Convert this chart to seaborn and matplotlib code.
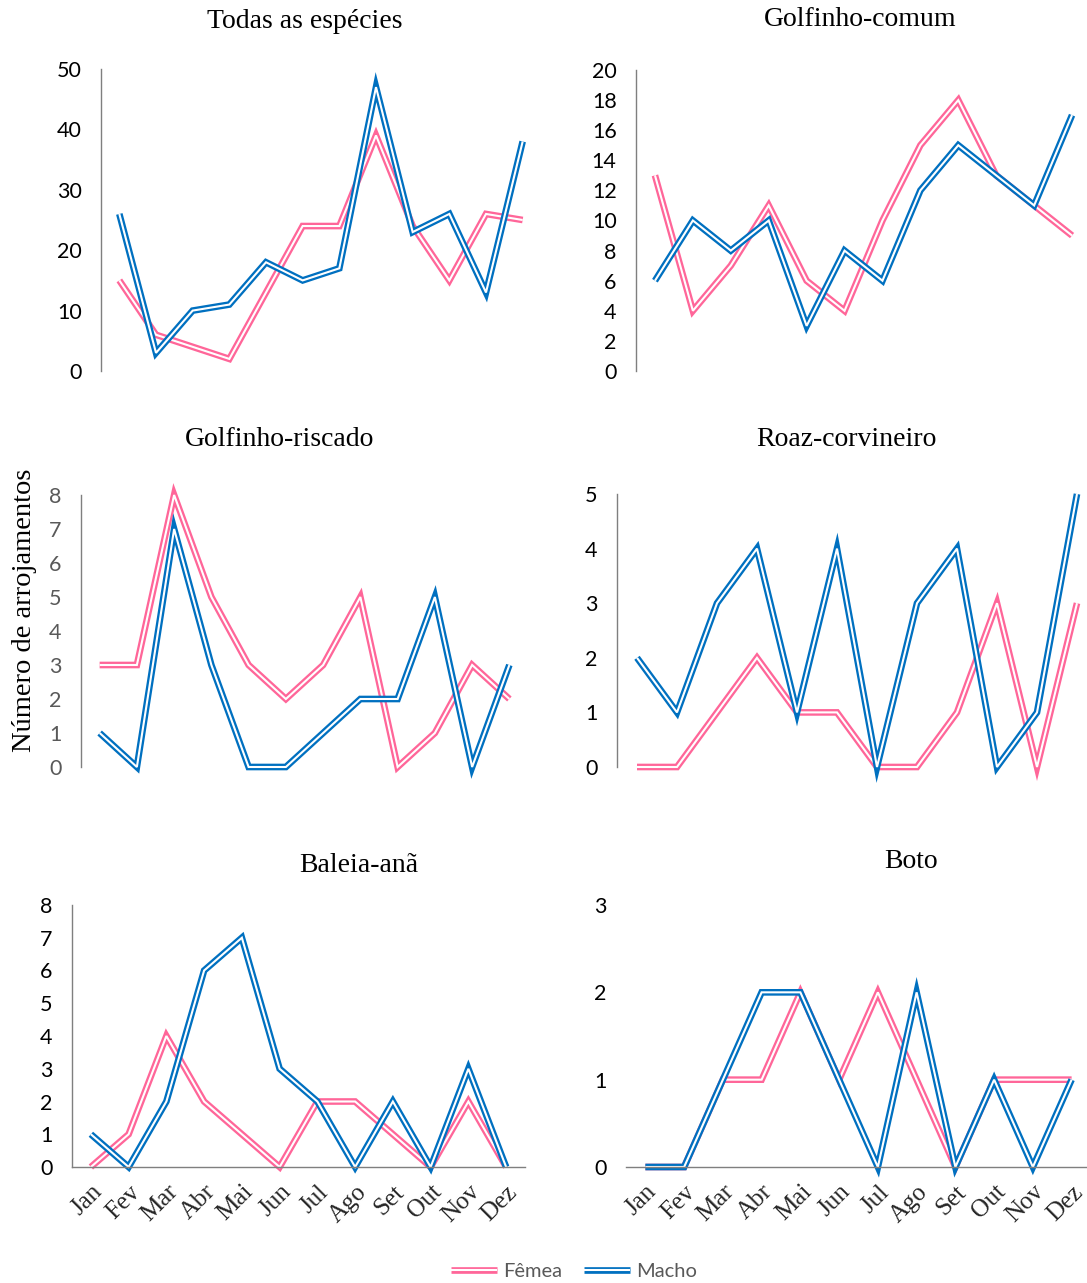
import numpy as np
import pandas as pd
import matplotlib
matplotlib.use('Agg')
import matplotlib.pyplot as plt
import matplotlib.patheffects as pe
from matplotlib.lines import Line2D
import seaborn as sns

# ---------------- data ----------------
meses = ['Jan', 'Fev', 'Mar', 'Abr', 'Mai', 'Jun', 'Jul', 'Ago', 'Set', 'Out', 'Nov', 'Dez']
sexos = ['Fêmea', 'Macho']
titulos = ['Todas as espécies', 'Golfinho-comum', 'Golfinho-riscado',
           'Roaz-corvineiro', 'Baleia-anã', 'Boto']

todas_femea = [15, 6, 4, 2, 13, 24, 24, 39, 24, 15, 26, 25]
todas_macho = [26, 3, 10, 11, 18, 15, 17, 47, 23, 26, 13, 38]

comum_femea = [13, 4, 7, 11, 6, 4, 10, 15, 18, 13, 11, 9]
comum_macho = [6, 10, 8, 10, 3, 8, 6, 12, 15, 13, 11, 17]

riscado_femea = [3, 3, 8, 5, 3, 2, 3, 5, 0, 1, 3, 2]
riscado_macho = [1, 0, 7, 3, 0, 0, 1, 2, 2, 5, 0, 3]

roaz_femea = [0, 0, 1, 2, 1, 1, 0, 0, 1, 3, 0, 3]
roaz_macho = [2, 1, 3, 4, 1, 4, 0, 3, 4, 0, 1, 5]

baleia_femea = [0, 1, 4, 2, 1, 0, 2, 2, 1, 0, 2, 0]
baleia_macho = [1, 0, 2, 6, 7, 3, 2, 0, 2, 0, 3, 0]

boto_femea = [0, 0, 1, 1, 2, 1, 2, 1, 0, 1, 1, 1]
boto_macho = [0, 0, 1, 2, 2, 1, 0, 2, 0, 1, 0, 1]

y_max = [50, 20, 8, 5, 8, 3]
y_step = [10, 2, 1, 1, 1, 1]

cores = {'Fêmea': '#FF6699', 'Macho': '#0070C0'}

series = [(todas_femea, todas_macho), (comum_femea, comum_macho),
          (riscado_femea, riscado_macho), (roaz_femea, roaz_macho),
          (baleia_femea, baleia_macho), (boto_femea, boto_macho)]

# ---------------- layout (pixels) ----------------
W, H = 1087, 1283
sns.set_theme(style='white')
plt.rcParams['font.family'] = ['Lato', 'DejaVu Sans']

fig = plt.figure(figsize=(W / 100, H / 100), dpi=100)

# x0, x1, y_top, y_bottom
boxes = [(101, 541, 69, 371), (636, 1091, 70, 371),
         (81, 528, 495, 767), (617, 1097, 494, 767),
         (72, 525, 905, 1167), (626, 1091, 905, 1167)]
title_pos = [(305, 21), (860, 19), (280, 440), (846, 440), (359, 865), (911, 862)]

OUTER = 4.8
INNER = 1.5
SERIF = 'Liberation Serif'

for i, ((fem, mac), box) in enumerate(zip(series, boxes)):
    x0, x1, yt, yb = box
    ax = fig.add_axes([x0 / W, 1 - yb / H, (x1 - x0) / W, (yb - yt) / H])
    df = pd.DataFrame({
        'mes': list(range(12)) * 2,
        'valor': list(fem) + list(mac),
        'sexo': [sexos[0]] * 12 + [sexos[1]] * 12,
    })
    sns.lineplot(data=df, x='mes', y='valor', hue='sexo', hue_order=sexos,
                 palette=cores, ax=ax, legend=False, sort=False,
                 estimator=None, linewidth=INNER)
    for ln in ax.lines:
        c = ln.get_color()
        ln.set_color('white')
        ln.set_solid_capstyle('butt')
        ln.set_solid_joinstyle('miter')
        ln.set_clip_on(False)
        ln.set_path_effects([pe.Stroke(linewidth=OUTER, foreground=c), pe.Normal()])

    ax.set_xlim(-0.5, 11.5)
    ax.set_ylim(0, y_max[i])
    ax.set_yticks(np.arange(0, y_max[i] + 0.001, y_step[i]))
    ax.set_xlabel('')
    ax.set_ylabel('')
    ax.set_facecolor('none')
    ax.grid(False)
    tick_col = '#595959' if i == 2 else 'black'
    ax.tick_params(axis='y', length=0, pad=14, labelsize=15.5, labelcolor=tick_col)
    if i >= 4:
        ax.set_xticks(range(12))
        ax.set_xticklabels(meses, rotation=45, ha='right', rotation_mode='anchor',
                           family=SERIF, fontsize=18)
        ax.tick_params(axis='x', length=0, pad=10)
    else:
        ax.set_xticks([])
    for s in ax.spines.values():
        s.set_visible(False)
        s.set_color('#7f7f7f')
        s.set_linewidth(1.0)
    if i != 5:
        ax.spines['left'].set_visible(True)
    if i >= 4:
        ax.spines['bottom'].set_visible(True)

    tx, ty = title_pos[i]
    fig.text(tx / W, 1 - ty / H, titulos[i], ha='center', va='center',
             family=SERIF, fontsize=20, color='black')

fig.text(25 / W, 1 - 610 / H, 'Número de arrojamentos', rotation=90,
         ha='center', va='center', family=SERIF, fontsize=20.5, color='black')

# legend
handles = []
for s in sexos:
    h = Line2D([0], [0], color='white', lw=INNER, solid_capstyle='butt')
    h.set_path_effects([pe.Stroke(linewidth=OUTER, foreground=cores[s]), pe.Normal()])
    handles.append(h)
fig.legend(handles, sexos, loc='center', bbox_to_anchor=(574 / W, 1 - 1271 / H),
           ncol=2, frameon=False, fontsize=14.5, handlelength=2.3,
           handletextpad=0.3, columnspacing=1.1, labelcolor='#595959')

fig.savefig('out.png', dpi=100)
